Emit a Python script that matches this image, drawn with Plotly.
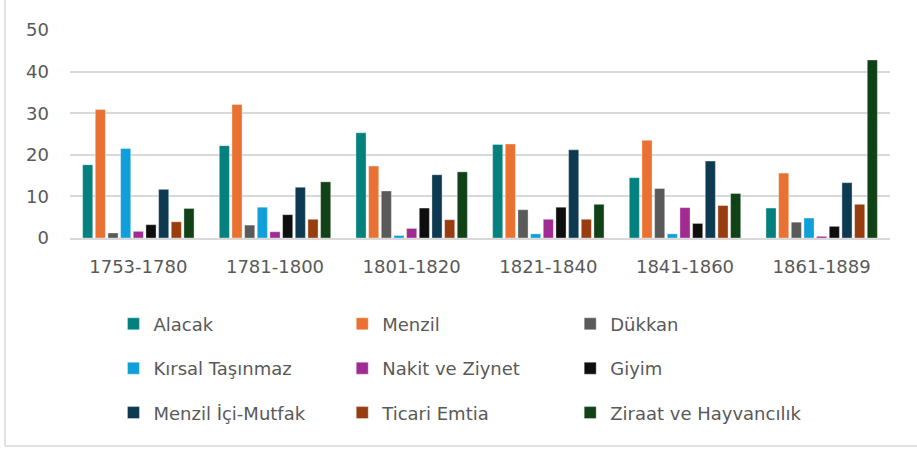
import plotly.graph_objects as go

categories = ["1753-1780", "1781-1800", "1801-1820", "1821-1840", "1841-1860", "1861-1889"]

series_names = ["Alacak", "Menzil", "Dükkan", "Kırsal Taşınmaz", "Nakit ve Ziynet",
                "Giyim", "Menzil İçi-Mutfak", "Ticari Emtia", "Ziraat ve Hayvancılık"]

alacak = [17.6, 22.2, 25.3, 22.5, 14.5, 7.2]
menzil = [30.9, 32.1, 17.3, 22.6, 23.5, 15.6]
dukkan = [1.2, 3.1, 11.3, 6.8, 11.9, 3.8]
kirsal = [21.5, 7.4, 0.6, 1.0, 1.0, 4.8]
nakit = [1.6, 1.5, 2.3, 4.5, 7.3, 0.4]
giyim = [3.2, 5.6, 7.2, 7.4, 3.5, 2.8]
mutfak = [11.7, 12.2, 15.2, 21.2, 18.5, 13.3]
ticari = [3.9, 4.5, 4.4, 4.5, 7.8, 8.1]
ziraat = [7.1, 13.5, 15.9, 8.1, 10.7, 42.8]

y_ticks = [0, 10, 20, 30, 40, 50]

series_values = [alacak, menzil, dukkan, kirsal, nakit, giyim, mutfak, ticari, ziraat]
colors = ["#04807E", "#E97132", "#5A5A5A", "#109FD8", "#A02B93",
          "#0E0E0E", "#0D3A51", "#983D10", "#114217"]
legend_of = ["legend", "legend2", "legend3", "legend", "legend2",
             "legend3", "legend", "legend2", "legend3"]

FONT = "DejaVu Sans"
TXT = "#595959"
GRID = "#D9D9D9"

fig = go.Figure()
for i, (name, vals) in enumerate(zip(series_names, series_values)):
    fig.add_trace(go.Bar(
        x=categories, y=vals, name=name,
        marker=dict(color=colors[i], line=dict(color="rgba(255,255,255,0.6)", width=0.6)),
        legend=legend_of[i], legendgroup="g%d" % i,
    ))

leg_common = dict(orientation="v", yanchor="top", xanchor="left",
                  font=dict(family=FONT, size=18, color=TXT),
                  tracegroupgap=18, bgcolor="rgba(0,0,0,0)", itemclick=False)

fig.update_layout(
    width=917, height=449,
    margin=dict(l=70, r=27, t=30, b=211),
    paper_bgcolor="white", plot_bgcolor="white",
    barmode="group", bargap=0.166, bargroupgap=0.2,
    font=dict(family=FONT, size=18, color=TXT),
    legend=dict(x=0.053, y=-0.325, **leg_common),
    legend2=dict(x=0.332, y=-0.325, **leg_common),
    legend3=dict(x=0.610, y=-0.325, **leg_common),
    xaxis=dict(showline=True, linecolor=GRID, linewidth=1.5, ticks="",
               tickfont=dict(family=FONT, size=18, color=TXT), ticklabelstandoff=12),
    yaxis=dict(range=[0, 50], tickvals=y_ticks, showgrid=True, gridcolor=GRID, gridwidth=1.5,
               zeroline=False, showline=False, ticks="",
               tickfont=dict(family=FONT, size=18, color=TXT), ticklabelstandoff=20),
    shapes=[
        dict(type="line", xref="paper", yref="paper", x0=(5 - 70) / 820, x1=(5 - 70) / 820,
             y0=(238 - 446) / 208, y1=(238 + 5) / 208, line=dict(color=GRID, width=1.5)),
        dict(type="line", xref="paper", yref="paper", x0=(5 - 70) / 820, x1=(930 - 70) / 820,
             y0=(238 - 446) / 208, y1=(238 - 446) / 208, line=dict(color=GRID, width=1.5)),
    ],
)

fig.write_html("out.html", config={"displayModeBar": False},
               post_script="document.body.style.margin='0';")
